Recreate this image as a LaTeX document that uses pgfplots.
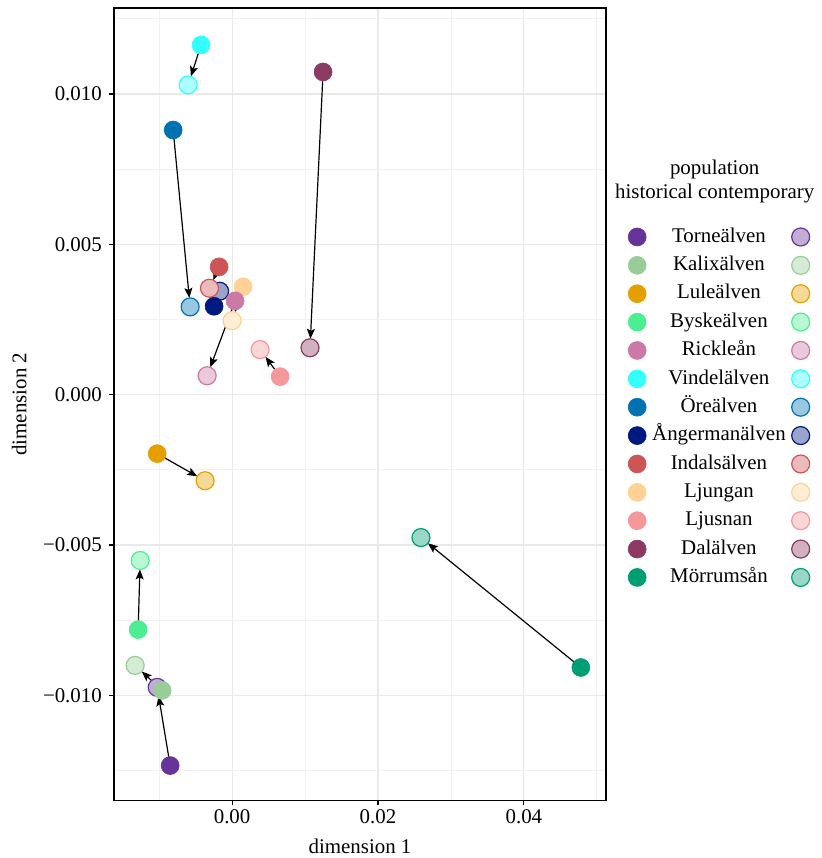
\documentclass[border=0pt]{standalone}
\usepackage{fontspec}
\setmainfont{Liberation Serif}
\usepackage{pgfplots}
\pgfplotsset{compat=1.18}
\usetikzlibrary{arrows.meta}

\definecolor{torne}{RGB}{102,51,153}
\definecolor{kalix}{RGB}{153,204,153}
\definecolor{lule}{RGB}{230,159,0}
\definecolor{byske}{RGB}{77,237,145}
\definecolor{rickle}{RGB}{204,121,167}
\definecolor{vindel}{RGB}{51,255,255}
\definecolor{ore}{RGB}{0,114,178}
\definecolor{anger}{RGB}{0,25,128}
\definecolor{indals}{RGB}{205,85,85}
\definecolor{ljungan}{RGB}{255,209,148}
\definecolor{ljusnan}{RGB}{244,152,156}
\definecolor{dal}{RGB}{139,58,98}
\definecolor{morrum}{RGB}{0,158,115}

\pgfplotsset{
  hist/.style={only marks, mark=*, mark size=4.5bp, color=#1,
    mark options={draw=#1, fill=#1, line width=0.3bp}},
  cont/.style={only marks, mark=*, mark size=4.5bp, color=#1,
    mark options={draw=#1, fill=#1!40, line width=0.6bp}},
  arr/.style={black, line width=0.6bp, mark=none, forget plot,
    -{Stealth[length=5bp, width=4bp, inset=1bp]},
    shorten <=4.5bp, shorten >=4.5bp},
}

\begin{document}
\fontsize{10.5}{12.6}\selectfont
\begin{tikzpicture}
\begin{axis}[
  name=main,
  scale only axis,
  width=246bp, height=396.5bp,
  xmin=-0.016164, xmax=0.051233,
  ymin=-0.013488, ymax=0.012857,
  clip=false,
  scaled ticks=false,
  xtick={0,0.02,0.04},
  xticklabels={0.00,0.02,0.04},
  ytick={-0.01,-0.005,0,0.005,0.01},
  yticklabels={−0.010,−0.005,0.000,0.005,0.010},
  minor xtick={-0.01,0.01,0.03,0.05},
  minor ytick={-0.0125,-0.0075,-0.0025,0.0025,0.0075,0.0125},
  grid=both,
  major grid style={gray!17, line width=0.6bp},
  minor grid style={gray!11, line width=0.4bp},
  minor tick length=0pt,
  major tick length=2.5bp,
  tick align=outside,
  xtick pos=bottom, ytick pos=left,
  tick style={black, line width=0.6bp},
  axis line style={black, line width=0.7bp},
  tick label style={font=\fontsize{10.5}{12.6}\selectfont},
  xticklabel style={yshift=1.5bp},
  label style={font=\fontsize{10.5}{12.6}\selectfont},
  xlabel={dimension 1},
  ylabel={dimension 2},
  xlabel style={inner ysep=2pt, yshift=-2bp},
  ylabel style={yshift=1bp},
  legend columns=2,
  legend image code/.code={\draw[#1] plot coordinates {(0,0)};},
  legend style={at={(axis description cs:1,0.4962)}, anchor=west, xshift=11bp,
    draw=none, fill=none, inner sep=0pt, row sep=0pt, column sep=0pt,
    font=\fontsize{10.5}{12.6}\selectfont,
    cells={anchor=center},
    nodes={inner xsep=3bp, inner ysep=2pt, text height=7.75pt, text depth=2.5pt},
    /tikz/column 4/.style={nodes={inner xsep=0pt}}},
]
% contemporary
\addplot[cont=torne, forget plot] coordinates {(-0.01027,-0.00973)};
\addplot[cont=kalix, forget plot] coordinates {(-0.01329,-0.00900)};
\addplot[cont=lule, forget plot] coordinates {(-0.00370,-0.00286)};
\addplot[cont=byske, forget plot] coordinates {(-0.01260,-0.00551)};
\addplot[cont=rickle, forget plot] coordinates {(-0.00342,0.00063)};
\addplot[cont=vindel, forget plot] coordinates {(-0.00603,0.01030)};
\addplot[cont=ore, forget plot] coordinates {(-0.00575,0.00292)};
\addplot[cont=anger, forget plot] coordinates {(-0.00171,0.00344)};
\addplot[cont=indals, forget plot] coordinates {(-0.00310,0.00354)};
\addplot[cont=ljungan, forget plot] coordinates {(0.00000,0.00246)};
\addplot[cont=ljusnan, forget plot] coordinates {(0.00384,0.00150)};
\addplot[cont=dal, forget plot] coordinates {(0.01068,0.00156)};
\addplot[cont=morrum, forget plot] coordinates {(0.02589,-0.00475)};
% historical
\addplot[hist=torne, forget plot] coordinates {(-0.00849,-0.01233)};
\addplot[hist=kalix, forget plot] coordinates {(-0.00959,-0.00983)};
\addplot[hist=lule, forget plot] coordinates {(-0.01027,-0.00196)};
\addplot[hist=byske, forget plot] coordinates {(-0.01288,-0.00781)};
\addplot[hist=vindel, forget plot] coordinates {(-0.00425,0.01163)};
\addplot[hist=ore, forget plot] coordinates {(-0.00808,0.00880)};
\addplot[hist=anger, forget plot] coordinates {(-0.00247,0.00294)};
\addplot[hist=indals, forget plot] coordinates {(-0.00178,0.00425)};
\addplot[hist=ljungan, forget plot] coordinates {(0.00151,0.00359)};
\addplot[hist=rickle, forget plot] coordinates {(0.00041,0.00312)};
\addplot[hist=ljusnan, forget plot] coordinates {(0.00658,0.00060)};
\addplot[hist=dal, forget plot] coordinates {(0.01247,0.01073)};
\addplot[hist=morrum, forget plot] coordinates {(0.04781,-0.00907)};
% arrows
\addplot[arr] coordinates {(-0.00849,-0.01233) (-0.01027,-0.00973)};
\addplot[arr] coordinates {(-0.00959,-0.00983) (-0.01329,-0.00900)};
\addplot[arr] coordinates {(-0.01027,-0.00196) (-0.00370,-0.00286)};
\addplot[arr] coordinates {(-0.01288,-0.00781) (-0.01260,-0.00551)};
\addplot[arr] coordinates {(0.00041,0.00312) (-0.00342,0.00063)};
\addplot[arr] coordinates {(-0.00425,0.01163) (-0.00603,0.01030)};
\addplot[arr] coordinates {(-0.00808,0.00880) (-0.00575,0.00292)};
\addplot[arr] coordinates {(-0.00247,0.00294) (-0.00171,0.00344)};
\addplot[arr] coordinates {(-0.00178,0.00425) (-0.00310,0.00354)};
\addplot[arr] coordinates {(0.00151,0.00359) (0.00000,0.00246)};
\addplot[arr] coordinates {(0.00658,0.00060) (0.00384,0.00150)};
\addplot[arr] coordinates {(0.01247,0.01073) (0.01068,0.00156)};
\addplot[arr] coordinates {(0.04781,-0.00907) (0.02589,-0.00475)};
% legend
\addlegendimage{hist=torne}\addlegendentry{Torneälven}
\addlegendimage{cont=torne}\addlegendentry{\mbox{}}
\addlegendimage{hist=kalix}\addlegendentry{Kalixälven}
\addlegendimage{cont=kalix}\addlegendentry{\mbox{}}
\addlegendimage{hist=lule}\addlegendentry{Luleälven}
\addlegendimage{cont=lule}\addlegendentry{\mbox{}}
\addlegendimage{hist=byske}\addlegendentry{Byskeälven}
\addlegendimage{cont=byske}\addlegendentry{\mbox{}}
\addlegendimage{hist=rickle}\addlegendentry{Rickleån}
\addlegendimage{cont=rickle}\addlegendentry{\mbox{}}
\addlegendimage{hist=vindel}\addlegendentry{Vindelälven}
\addlegendimage{cont=vindel}\addlegendentry{\mbox{}}
\addlegendimage{hist=ore}\addlegendentry{Öreälven}
\addlegendimage{cont=ore}\addlegendentry{\mbox{}}
\addlegendimage{hist=anger}\addlegendentry{Ångermanälven}
\addlegendimage{cont=anger}\addlegendentry{\mbox{}}
\addlegendimage{hist=indals}\addlegendentry{Indalsälven}
\addlegendimage{cont=indals}\addlegendentry{\mbox{}}
\addlegendimage{hist=ljungan}\addlegendentry{Ljungan}
\addlegendimage{cont=ljungan}\addlegendentry{\mbox{}}
\addlegendimage{hist=ljusnan}\addlegendentry{Ljusnan}
\addlegendimage{cont=ljusnan}\addlegendentry{\mbox{}}
\addlegendimage{hist=dal}\addlegendentry{Dalälven}
\addlegendimage{cont=dal}\addlegendentry{\mbox{}}
\addlegendimage{hist=morrum}\addlegendentry{Mörrumsån}
\addlegendimage{cont=morrum}\addlegendentry{\mbox{}}
\node[font=\fontsize{10.5}{12.6}\selectfont] at (axis description cs:1.2215,0.7957) {population};
\node[font=\fontsize{10.5}{12.6}\selectfont] at (axis description cs:1.2215,0.7654) {historical contemporary};
\end{axis}
\path ([yshift=4bp]main.north);
\path ([xshift=-2.5bp]current axis.outer west);
\end{tikzpicture}
\end{document}
